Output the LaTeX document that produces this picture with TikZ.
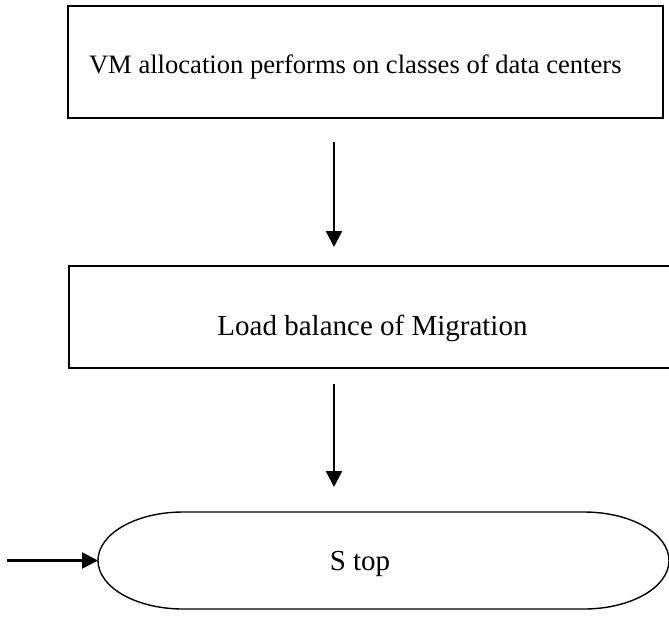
\documentclass[tikz,border=0pt]{standalone}
\usepackage{fontspec}
\setmainfont{Liberation Serif}
\usetikzlibrary{arrows.meta}

\tikzset{
  box/.style={draw, line width=1.5pt, inner sep=0pt},
  plain/.style={inner sep=0pt, outer sep=0pt},
  flow/.style={line width=2.4pt, -{Triangle[length=16pt,width=16pt]}},
  stadium/.style={line width=1.4pt},
}

\begin{document}
\begin{tikzpicture}[x=1pt,y=-1pt]
  \useasboundingbox (0,0) rectangle (669,616);

  % process boxes
  \node[box, minimum width=595pt, minimum height=112pt] (alloc) at (365.5,62) {};
  \node[plain, anchor=base west, font=\fontsize{26.6}{30}\selectfont] (alloctext) at (89,73)
    {VM allocation performs on classes of data centers};

  \node[box, minimum width=610pt, minimum height=102pt] (balance) at (374,317) {};
  \node[plain, anchor=base, font=\fontsize{29}{34}\selectfont] (balancetext) at (372.5,335)
    {Load balance of Migration};

  % terminator with elliptical ends
  \node[plain, minimum width=571pt, minimum height=97pt] (stop) at (383.5,560.5) {};
  \draw[stadium]
    ([xshift=85pt]stop.north west) -- ([xshift=-85pt]stop.north east)
    arc[start angle=90, end angle=-90, x radius=85pt, y radius=48.5pt]
    -- ([xshift=85pt]stop.south west)
    arc[start angle=270, end angle=90, x radius=85pt, y radius=48.5pt]
    -- cycle;
  \node[plain, anchor=base, font=\fontsize{29}{34}\selectfont] (stoptext) at (360,570) {S top};

  % connectors
  \coordinate (a1from) at (334,142);
  \coordinate (a1to) at (334,247);
  \coordinate (a2from) at (334,384);
  \coordinate (a2to) at (334,487);
  \coordinate (entry) at (7,560.5);

  \draw[flow] (a1from) -- (a1to);
  \draw[flow] (a2from) -- (a2to);
  \draw[flow] (entry) -- (stop.west);
\end{tikzpicture}
\end{document}
